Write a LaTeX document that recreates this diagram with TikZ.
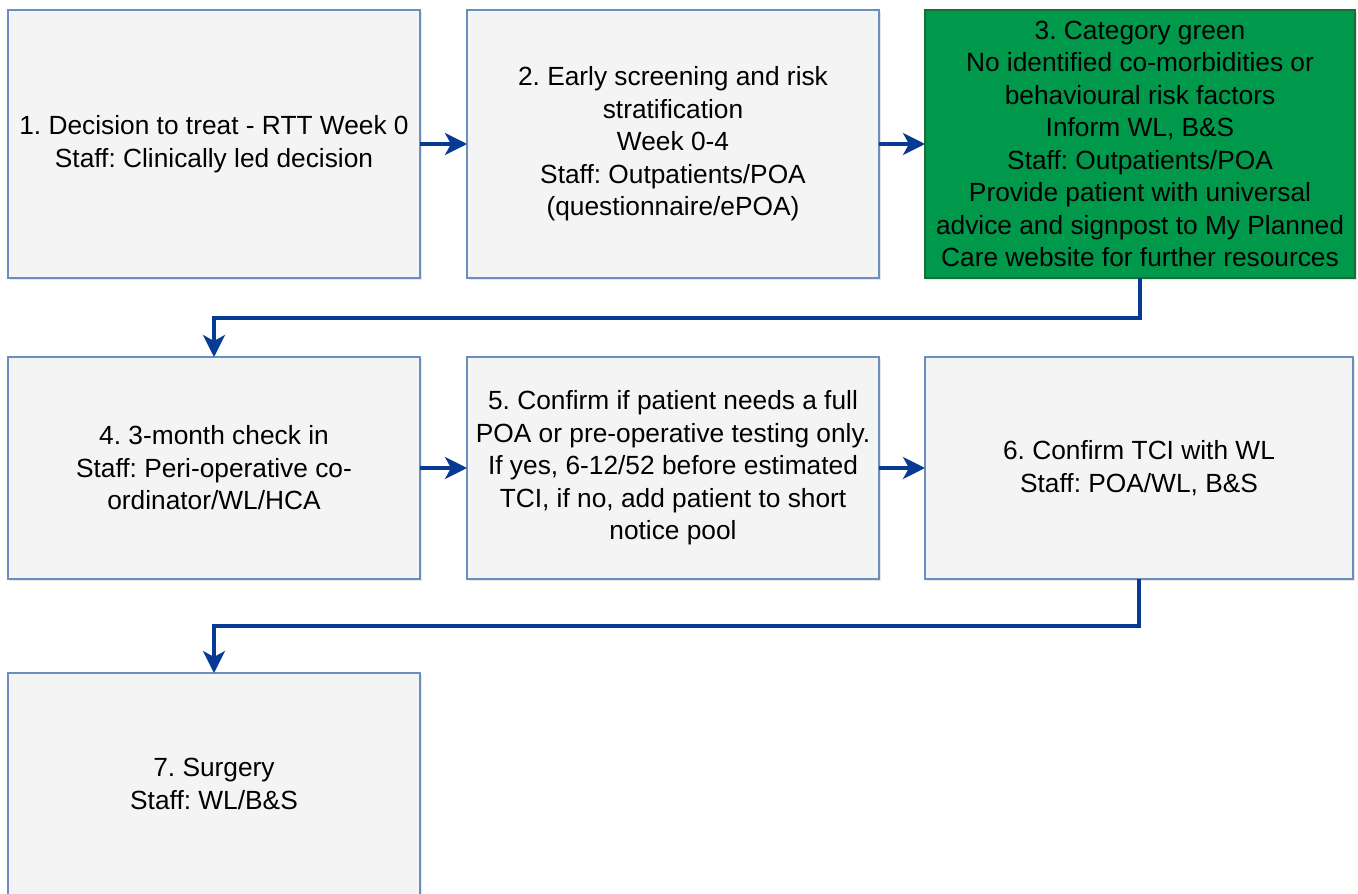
\documentclass[tikz,border=0pt]{standalone}
\usepackage{fontspec}
\setmainfont{Liberation Sans}
\usetikzlibrary{arrows.meta,shadows}
\definecolor{bborder}{HTML}{6C8EBF}
\definecolor{bfill}{HTML}{F4F4F4}
\definecolor{arrowblue}{HTML}{063A93}
\definecolor{ggreen}{HTML}{00994C}
\definecolor{gborder}{HTML}{1D6B35}
\tikzset{
  box/.style={draw=bborder, fill=bfill, line width=1.5pt, rectangle, inner sep=0pt, outer sep=0pt,
    align=center, font=\fontsize{26.3}{32.5}\selectfont\frenchspacing,
    drop shadow={opacity=0.2, shadow xshift=2pt, shadow yshift=-2pt}},
  greenbox/.style={box, draw=gborder, fill=ggreen},
  conn/.style={draw=arrowblue, line width=3.5pt, -{Stealth[length=22pt,width=22pt,inset=6pt]}},
}
\begin{document}
\frenchspacing
\begin{tikzpicture}[x=1pt,y=-1pt]
\useasboundingbox (0,0) rectangle (1358,894);
\clip (0,0) rectangle (1358,894);
\node[box, minimum width=412pt, minimum height=268pt] (b1) at (214,144)
  {1. Decision to treat - RTT Week 0\\Staff: Clinically led decision};
\node[box, minimum width=412pt, minimum height=268pt] (b2) at (673,144)
  {2. Early screening and risk\\stratification\\Week 0-4\\Staff: Outpatients/POA\\(questionnaire/ePOA)};
\node[greenbox, minimum width=430pt, minimum height=268pt] (b3) at (1140,144)
  {3. Category green\\No identified co-morbidities or\\behavioural risk factors\\Inform WL, B\&S\\Staff: Outpatients/POA\\Provide patient with universal\\advice and signpost to My Planned\\Care website for further resources};
\node[box, minimum width=412pt, minimum height=222pt] (b4) at (214,468)
  {4. 3-month check in\\Staff: Peri-operative co-\\ordinator/WL/HCA};
\node[box, minimum width=412pt, minimum height=222pt] (b5) at (673,468)
  {5. Confirm if patient needs a full\\POA or pre-operative testing only.\\If yes, 6-12/52 before estimated\\TCI, if no, add patient to short\\notice pool};
\node[box, minimum width=428pt, minimum height=222pt] (b6) at (1139,468)
  {6. Confirm TCI with WL\\Staff: POA/WL, B\&S};
\node[box, minimum width=412pt, minimum height=222pt] (b7) at (214,784)
  {7. Surgery\\Staff: WL/B\&S};
\draw[conn] (b1.east) -- (b2.west);
\draw[conn] (b2.east) -- (b3.west);
\draw[conn] (b3.south) -- ++(0,40) -| (b4.north);
\draw[conn] (b4.east) -- (b5.west);
\draw[conn] (b5.east) -- (b6.west);
\draw[conn] (b6.south) -- ++(0,47) -| (b7.north);
\end{tikzpicture}
\end{document}
